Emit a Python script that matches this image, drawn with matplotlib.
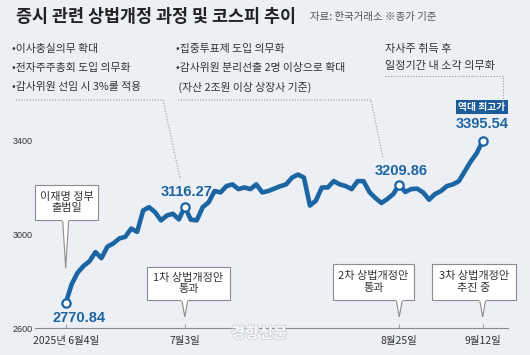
import matplotlib
matplotlib.use('Agg')
import matplotlib.pyplot as plt
import matplotlib.patheffects as pe
from matplotlib.patches import Rectangle, Polygon

plt.rcParams['font.family'] = ['Noto Sans CJK KR', 'DejaVu Sans']

W, H = 530, 355
BG = '#eceff3'
BLUE = '#1b65a3'
DARK_BLUE = '#1c5d99'
GRID_GRAY = '#8c8c8c'
TXT = '#333333'

# KOSPI close by trading day, 2025-06-04 .. 2025-09-12
kospi = [2705, 2786, 2835, 2864, 2884, 2923, 2897, 2946, 2960, 2981,
         2988, 3023, 3009, 3100, 3114, 3093, 3058, 3079, 3086, 3062,
         3116.27, 3061, 3058, 3114, 3135, 3183, 3177, 3204, 3211, 3191,
         3198, 3191, 3211, 3177, 3183, 3193, 3203, 3211, 3240, 3253,
         3240, 3121, 3142, 3198, 3198, 3225, 3211, 3204, 3191, 3225,
         3225, 3178, 3153, 3132, 3149, 3170, 3209.86, 3179, 3191, 3193,
         3177, 3146, 3170, 3183, 3204, 3211, 3225, 3267, 3309, 3344,
         3395.54]
days = list(range(len(kospi)))

event_idx = [0, 20, 56, 70]
event_dates = ['2025년 6월4일', '7월3일', '8월25일', '9월12일']
event_labels = ['2770.84', '3116.27', '3209.86', '3395.54']
label_offsets = [(13, -15), (2, 15), (2, 14), (0, 17)]
yticks = [2600, 3000, 3400]

callout_texts = ['이재명 정부\n출범일', '1차 상법개정안\n통과',
                 '2차 상법개정안\n통과', '3차 상법개정안\n추진 중']
# box left, right, top, bottom, tail tip (pixels from top-left)
callout_boxes = [(35, 98, 185, 220, 268),
                 (147, 230, 267, 300, 317),
                 (333, 414, 264, 300, 317),
                 (432, 516, 264, 300, 317)]

block_left = ['•이사충실의무 확대', '•전자주주총회 도입 의무화', '•감사위원 선임 시 3%룰 적용']
block_mid = ['•집중투표제 도입 의무화', '•감사위원 분리선출 2명 이상으로 확대', ' (자산 2조원 이상 상장사 기준)']
block_right = ['자사주 취득 후', '일정기간 내 소각 의무화']

fig = plt.figure(figsize=(W / 100, H / 100), dpi=100, facecolor=BG)
ax = fig.add_axes([35 / W, 27 / H, 473 / W, 258.5 / H])
ax.set_facecolor(BG)
ax.set_xlim(-5.15, 74.25)
ax.set_ylim(2600, 3700)

ax.plot(days, kospi, color=BLUE, lw=3.3, solid_joinstyle='round',
        solid_capstyle='round', zorder=3)
ax.plot(event_idx, [kospi[i] for i in event_idx], 'o', ms=6, mfc='white',
        mec=BLUE, mew=1.6, zorder=4)
for i, lab, off in zip(event_idx, event_labels, label_offsets):
    ax.annotate(lab, (i, kospi[i]), xytext=off, textcoords='offset pixels',
                ha='center', va='center', fontsize=10.5, fontweight='bold',
                color=BLUE, family=['Liberation Sans', 'DejaVu Sans'], zorder=5)

# all-time high tag
ax.annotate('역대 최고가', (70, kospi[70]), xytext=(-1, 34), textcoords='offset pixels',
            ha='center', va='center', fontsize=7, fontweight='bold', color='white',
            bbox=dict(boxstyle='square,pad=0.25', fc=DARK_BLUE, ec='none'), zorder=5)

for s in ['top', 'right', 'left']:
    ax.spines[s].set_visible(False)
ax.spines['bottom'].set_color(GRID_GRAY)
ax.spines['bottom'].set_linewidth(0.8)
ax.set_yticks(yticks)
ax.set_yticklabels([str(t) for t in yticks], fontsize=6.5, color=TXT,
                   family=['Liberation Sans', 'DejaVu Sans'])
ax.tick_params(axis='y', length=0, pad=2)
ax.set_xticks(event_idx)
ax.set_xticklabels(event_dates, fontsize=7.5, color=TXT)
ax.tick_params(axis='x', length=3, direction='in', color=GRID_GRAY, width=0.6, pad=6)

# overlay in pixel coordinates for text blocks and callouts
ov = fig.add_axes([0, 0, 1, 1], zorder=5)
ov.set_xlim(0, W)
ov.set_ylim(H, 0)
ov.axis('off')

ov.text(16, 17, '증시 관련 상법개정 과정 및 코스피 추이', fontsize=12.5, fontweight='bold',
        color='#222222', va='center', ha='left')
ov.text(310, 17, '자료: 한국거래소 ※종가 기준', fontsize=7.5, color='#555555',
        va='center', ha='left')

for k, line in enumerate(block_left):
    ov.text(12, 49 + 19 * k, line, fontsize=7.8, color=TXT, va='center', ha='left')
for k, line in enumerate(block_mid):
    ov.text(176, 49 + 19 * k, line, fontsize=7.8, color=TXT, va='center', ha='left')
for k, line in enumerate(block_right):
    ov.text(385, 49 + 17 * k, line, fontsize=8, color=TXT, va='center', ha='left')

dot = dict(color='#999999', lw=0.8, ls=(0, (1, 1.5)))
ov.plot([16, 163, 180], [100, 100, 178], **dot)
ov.plot([178, 371, 383], [100, 100, 158], **dot)
ov.plot([385, 503, 503], [76, 76, 102], **dot)

for (x0, x1, y0, y1, tip), txt, i in zip(callout_boxes, callout_texts, event_idx):
    tx = ax.transData.transform((i, 2600))[0]
    ov.add_patch(Rectangle((x0, y0), x1 - x0, y1 - y0, fc='white', ec=GRID_GRAY, lw=0.8))
    ov.add_patch(Polygon([(tx - 3, y1), (tx, tip), (tx + 3, y1)], closed=False,
                         fc='white', ec=GRID_GRAY, lw=0.8))
    ov.plot([tx - 2.4, tx + 2.4], [y1, y1], color='white', lw=1.2)
    ov.text((x0 + x1) / 2, (y0 + y1) / 2, txt, fontsize=8, color=TXT,
            ha='center', va='center', linespacing=1.2)

ov.text(259, 333, '경향신문', fontsize=11, fontweight='bold', color='white', alpha=0.9,
        ha='center', va='center',
        path_effects=[pe.withStroke(linewidth=1.2, foreground='#c9cdd2')])

fig.savefig('out.png', dpi=100, facecolor=BG)
